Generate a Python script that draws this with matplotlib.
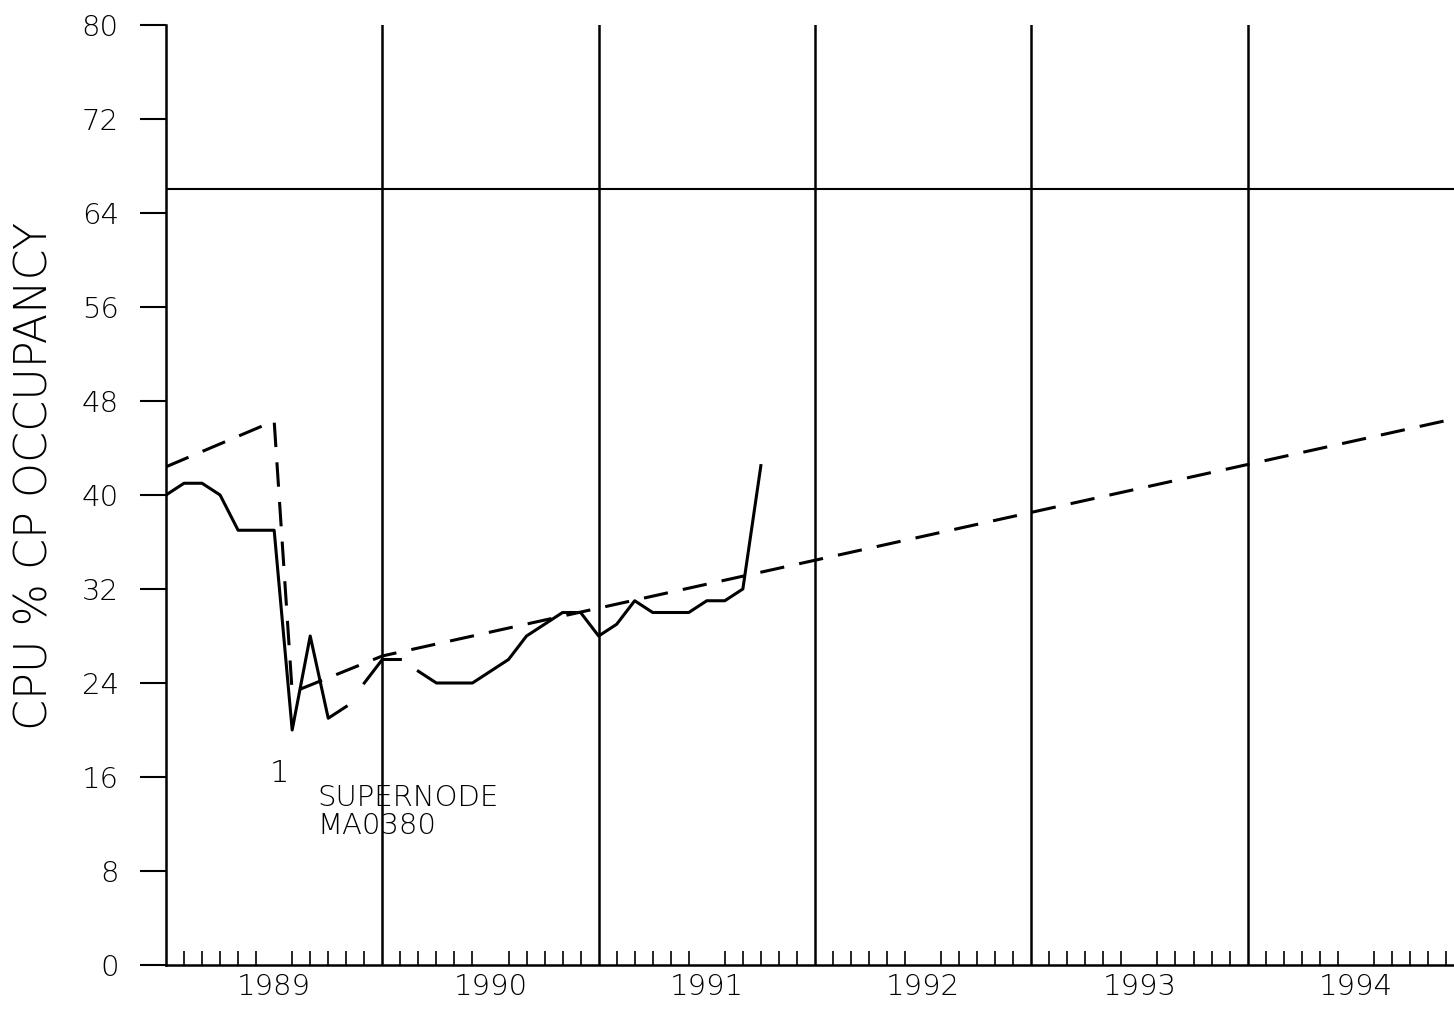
import matplotlib
matplotlib.use("Agg")
import matplotlib.pyplot as plt
import numpy as np

# monthly CPU % CP occupancy, month 0 = Jan 1989
months = list(range(0, 34))
cpu = [40, 41, 41, 40, 37, 37, 37, 20, 28, 21, 22,
       24, 26, 26,
       25, 24, 24, 24, 25, 26, 28, 29, 30, 30, 28, 29, 31, 30, 30, 30, 31, 31, 32, 42.5]
# indices after which the plotted line is broken
breaks = [10, 13]

# dashed trend line (month, value)
trend_months = [0, 6, 7, 12, 71.5]
trend_vals = [42.4, 46.3, 23.2, 26.3, 46.5]

capacity = 66
years = ['1989', '1990', '1991', '1992', '1993', '1994']
year_mid = [6 + 12 * i for i in range(len(years))]
year_edges = [12, 24, 36, 48, 60]
yticks = list(range(0, 81, 8))

fig = plt.figure(figsize=(14.54, 10.13), dpi=100)
ax = fig.add_axes([166 / 1454, 1 - 965 / 1013, 1 - 166 / 1454, (965 - 25) / 1013])

# solid data line, drawn in pieces
start = 0
for b in breaks + [len(cpu) - 1]:
    ax.plot(months[start:b + 1], cpu[start:b + 1], color='black', lw=2.2)
    start = b + 1

ax.plot(trend_months, trend_vals, color='black', lw=2.2, dashes=(8, 5))

ax.axhline(capacity, color='black', lw=1.5)
for x in year_edges:
    ax.axvline(x, color='black', lw=1.8)

ax.text(6.3, 16.3, '1', fontsize=22, ha='center', va='center', fontweight='light')
ax.text(8.4, 15.4, 'SUPERNODE\nMA0380', fontsize=21, ha='left', va='top',
        linespacing=1.0, fontweight='light')

ax.set_xlim(0, 71.45)
ax.set_ylim(0, 80)
ax.spines['top'].set_visible(False)
ax.spines['right'].set_visible(False)
ax.spines['left'].set_linewidth(1.8)
ax.spines['bottom'].set_linewidth(1.8)

ax.set_yticks(yticks)
ax.set_yticklabels([str(v) for v in yticks], fontsize=21, fontweight='light')
ax.tick_params(axis='y', direction='out', length=19, width=1.5, pad=15)

ax.set_xticks(year_mid)
ax.set_xticklabels(years, fontsize=21, fontweight='light')
ax.set_xticks([m for m in range(1, 72) if m % 12 != 0], minor=True)
ax.tick_params(axis='x', which='major', length=0, pad=6)
ax.tick_params(axis='x', which='minor', direction='in', length=10, width=1.2)

ax.set_ylabel('CPU % CP OCCUPANCY', fontsize=32, fontweight='light')
ax.yaxis.set_label_coords(-0.085, 0.52)

fig.savefig('out.png', dpi=100)
